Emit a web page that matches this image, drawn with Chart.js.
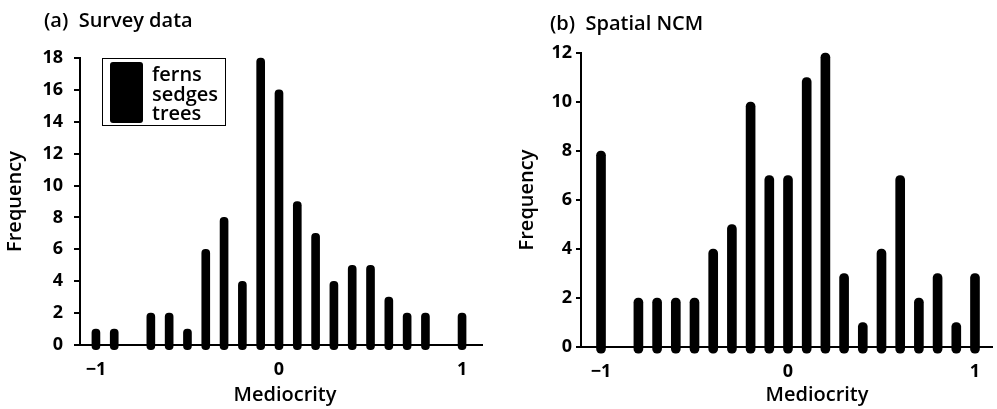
<!DOCTYPE html>
<html>
<head>
<meta charset="utf-8">
<script src="https://cdn.jsdelivr.net/npm/chart.js@4"></script>
<style>
  body { margin: 0; background: #fff; font-family: 'Open Sans', sans-serif; color: #000; }
  #wrap { position: relative; width: 997px; height: 409px; overflow: hidden; }
  canvas { position: absolute; top: 0; }
  .lbl { position: absolute; white-space: nowrap; line-height: 1; }
  .ptitle { font-size: 20px; font-weight: 600; }
  .xtitle { font-size: 20px; font-weight: 600; transform: translateX(-50%); }
  #legend { position: absolute; left: 102px; top: 58px; width: 122px; height: 66px; border: 1.5px solid #000; }
  #legend .swatch { position: absolute; left: 7px; top: 3px; width: 33px; height: 61px; background: #000; border-radius: 3px; }
  #legend .names { position: absolute; left: 49px; top: 5px; font-size: 20px; font-weight: 600; line-height: 19.5px; }
</style>
</head>
<body>
<div id="wrap">
  <canvas id="chartA" width="500" height="409" style="left:0"></canvas>
  <canvas id="chartB" width="497" height="409" style="left:500px"></canvas>

  <div class="lbl ptitle" style="left:44px;top:10px">(a)&nbsp; Survey data</div>
  <div class="lbl ptitle" style="left:550px;top:13px">(b)&nbsp; Spatial NCM</div>
  <div class="lbl xtitle" style="left:285px;top:384px">Mediocrity</div>
  <div class="lbl xtitle" style="left:817px;top:384px">Mediocrity</div>
  <div id="legend"><div class="swatch"></div><div class="names" id="legendNames"></div></div>
</div>

<script>
// (a) survey data
const surveyMediocrity = [-1, -0.9, -0.7, -0.6, -0.5, -0.4, -0.3, -0.2, -0.1, 0, 0.1, 0.2, 0.3, 0.4, 0.5, 0.6, 0.7, 0.8, 1];
const surveyFrequency  = [1, 1, 2, 2, 1, 6, 8, 4, 18, 16, 9, 7, 4, 5, 5, 3, 2, 2, 2];

// (b) spatial NCM
const ncmMediocrity = [-1, -0.8, -0.7, -0.6, -0.5, -0.4, -0.3, -0.2, -0.1, 0, 0.1, 0.2, 0.3, 0.4, 0.5, 0.6, 0.7, 0.8, 0.9, 1];
const ncmFrequency  = [8, 2, 2, 2, 2, 4, 5, 10, 7, 7, 11, 12, 3, 1, 4, 7, 2, 3, 1, 3];

const mediocrityTicks = [-1, 0, 1];
const legendGroups = ['ferns', 'sedges', 'trees'];

document.getElementById('legendNames').innerHTML = legendGroups.join('<br>');

const tickFont = { family: "'Open Sans', sans-serif", size: 18, weight: 'bold' };
const titleFont = { family: "'Open Sans', sans-serif", size: 20, weight: '600' };

function fmt(v) {
  return v < 0 ? '\u2212' + Math.abs(v) : String(v);
}

function drawPanel(id, xs, ys, o) {
  return new Chart(document.getElementById(id), {
    type: 'bar',
    data: {
      datasets: [{
        data: xs.map((x, i) => ({ x: x, y: ys[i] })),
        backgroundColor: '#000',
        barThickness: o.barW,
        borderRadius: o.barW / 2,
        borderSkipped: false,
        base: o.base,   // bars poke a little below the axis, like the print
        clip: false
      }]
    },
    options: {
      responsive: false,
      animation: false,
      layout: { padding: { top: o.top, right: o.right, left: 0, bottom: 0 } },
      plugins: { legend: { display: false }, tooltip: { enabled: false } },
      scales: {
        x: {
          type: 'linear',
          min: o.xMin,
          max: o.xMax,
          offset: false,
          afterBuildTicks: s => { s.ticks = mediocrityTicks.map(v => ({ value: v })); },
          afterFit: s => { s.height = o.xH; },
          grid: { display: false },
          border: { color: '#000', width: 2 },
          ticks: { color: '#000', font: tickFont, padding: o.xPad, maxRotation: 0, callback: fmt }
        },
        y: {
          min: 0,
          max: o.yMax,
          afterFit: s => { s.width = o.yW; },
          ticks: { stepSize: 2, color: '#000', font: tickFont, padding: o.yPad },
          grid: { drawOnChartArea: false, drawTicks: true, color: '#000', tickColor: '#000', tickWidth: 2, lineWidth: 2, tickLength: o.tick },
          border: { color: '#000', width: 2 },
          title: { display: true, text: 'Frequency', color: '#000', font: titleFont, padding: { top: o.titlePad, bottom: 0 } }
        }
      }
    }
  });
}

drawPanel('chartA', surveyMediocrity, surveyFrequency, {
  barW: 8, base: -0.3, top: 58, right: 18, xH: 64, yW: 80,
  xMin: -1.087, xMax: 1.109, yMax: 18, xPad: 6, yPad: 11, tick: 6, titlePad: 3
});

drawPanel('chartB', ncmMediocrity, ncmFrequency, {
  barW: 9, base: -0.25, top: 53, right: 5, xH: 62, yW: 81,
  xMin: -1.107, xMax: 1.091, yMax: 12, xPad: 6, yPad: 4, tick: 5, titlePad: 15
});
</script>
</body>
</html>
